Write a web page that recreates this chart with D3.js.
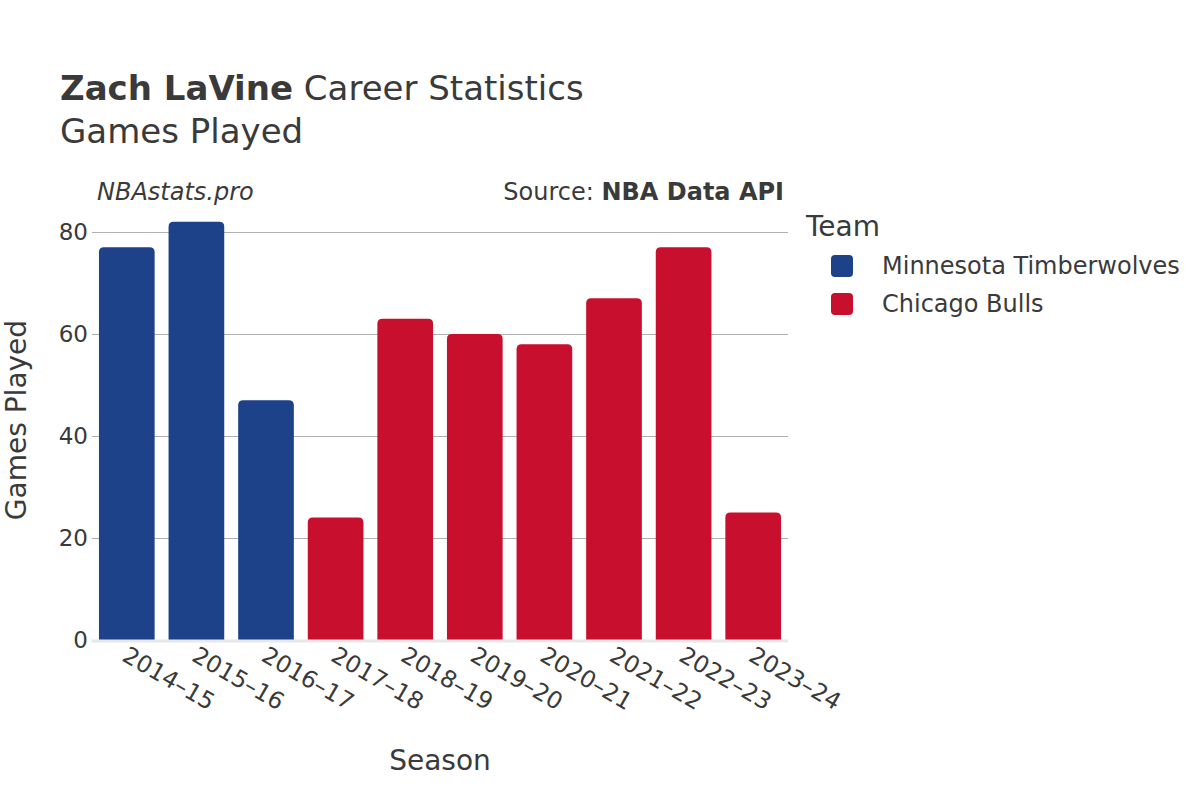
<!DOCTYPE html>
<html><head><meta charset="utf-8">
<script src="https://cdn.jsdelivr.net/npm/d3@7"></script>
<style>body{margin:0;background:#fff;} text{font-family:"DejaVu Sans",sans-serif;}</style>
</head><body><svg id="c" width="1200" height="800"></svg>
<script>
const seasons = ["2014–15","2015–16","2016–17","2017–18","2018–19","2019–20","2020–21","2021–22","2022–23","2023–24"];
const games = [77,82,47,24,63,60,58,67,77,25];
const teams = ["MIN","MIN","MIN","CHI","CHI","CHI","CHI","CHI","CHI","CHI"];
const teamKeys = ["MIN","CHI"];
const teamNames = ["Minnesota Timberwolves","Chicago Bulls"];
const teamColors = ["#1d428a","#c8102e"];
const yTicks = [0,20,40,60,80];

const svg = d3.select("#c");
const L=92,R=788,B=640;
const x = d3.scaleBand().domain(seasons).range([L,R]).paddingInner(0.2).paddingOuter(0.1);
const y = d3.scaleLinear().domain([0,80]).range([B,232]);
const color = d3.scaleOrdinal().domain(teamKeys).range(teamColors);
const txt="#3a3a3a";

// grid
svg.append("g").selectAll("line").data(yTicks.filter(d=>d>0)).join("line")
 .attr("x1",L).attr("x2",R).attr("y1",d=>Math.round(y(d))+0.5).attr("y2",d=>Math.round(y(d))+0.5)
 .attr("stroke","#b0b0b0").attr("stroke-width",1);
// y labels
svg.append("g").selectAll("text").data(yTicks).join("text")
 .attr("x",L-4).attr("y",d=>y(d)+8).attr("text-anchor","end")
 .attr("font-size",23).attr("fill",txt).text(d=>d);

// bars with rounded top
const r=5;
svg.append("g").selectAll("path").data(seasons).join("path")
 .attr("d",(s,i)=>{
   const x0=x(s), w=x.bandwidth(), y0=y(games[i]), yb=y(0);
   return `M${x0},${yb}V${y0+r}Q${x0},${y0} ${x0+r},${y0}H${x0+w-r}Q${x0+w},${y0} ${x0+w},${y0+r}V${yb}Z`;
 })
 .attr("fill",(s,i)=>color(teams[i]));

// zero line
svg.append("line").attr("x1",L).attr("x2",R).attr("y1",y(0)+1).attr("y2",y(0)+1)
 .attr("stroke","#e8e8e8").attr("stroke-width",3);

// x labels
svg.append("g").selectAll("text").data(seasons).join("text")
 .attr("transform",s=>`translate(${x(s)+x.bandwidth()/2-6},${B+20}) rotate(30)`)
 .attr("font-size",23.5).attr("fill",txt).text(s=>s);

// titles
const t = svg.append("text").attr("x",60).attr("y",100).attr("font-size",34).attr("fill",txt);
t.append("tspan").attr("font-weight","bold").text("Zach LaVine");
t.append("tspan").text(" Career Statistics");
svg.append("text").attr("x",60).attr("y",143).attr("font-size",34).attr("fill",txt).text("Games Played");
svg.append("text").attr("x",97).attr("y",200).attr("font-size",24).attr("font-style","italic").attr("fill",txt).text("NBAstats.pro");
const s2=svg.append("text").attr("x",784).attr("y",200).attr("font-size",24).attr("text-anchor","end").attr("fill",txt);
s2.append("tspan").text("Source: ");
s2.append("tspan").attr("font-weight","bold").text("NBA Data API");

svg.append("text").attr("transform","translate(26,420) rotate(-90)").attr("text-anchor","middle")
 .attr("font-size",28).attr("fill",txt).text("Games Played");
svg.append("text").attr("x",440).attr("y",770).attr("text-anchor","middle")
 .attr("font-size",28).attr("fill",txt).text("Season");

// legend
svg.append("text").attr("x",806).attr("y",236).attr("font-size",28).attr("fill",txt).text("Team");
const lg = svg.append("g").selectAll("g").data(teamKeys).join("g")
 .attr("transform",(d,i)=>`translate(831,${255+i*38})`);
lg.append("rect").attr("width",22).attr("height",22).attr("rx",4).attr("fill",d=>color(d));
lg.append("text").attr("x",51).attr("y",19).attr("font-size",24).attr("fill",txt).text((d,i)=>teamNames[i]);
</script></body></html>
